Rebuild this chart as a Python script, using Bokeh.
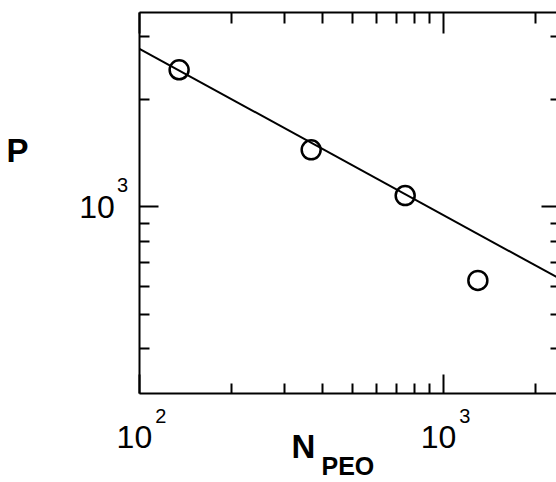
import math
from bokeh.plotting import figure
from bokeh.models import LogAxis, FixedTicker, Label, CustomJSTickFormatter, Range1d
from bokeh.embed import file_html
from bokeh.resources import INLINE

# data
n_peo = [135, 367, 748, 1297]
p_val = [2419, 1444, 1075, 622]
fit_n = [100, 2353]
fit_p = [2770, 636]

x_major = [100, 1000]
x_minor = [200, 300, 400, 500, 600, 700, 800, 900, 2000]
y_major = [1000]
y_minor = [400, 500, 600, 700, 800, 900, 2000, 3000]
x_tick_base = ["10", "10"]
x_tick_exp = ["2", "3"]
y_tick_base = ["10"]
y_tick_exp = ["3"]

# axes box (data limits)
X0, X1 = 100, 2353
Y0, Y1 = 300, 3500

FONT = "Liberation Sans"
W, H = 556, 482
BOX_L, BOX_T, BOX_B = 139, 12, 393   # pixel edges of the axes box

# extend ranges so that the frame spans the whole canvas (labels are not clipped)
xdec = (W - BOX_L) / math.log10(X1 / X0)
ydec = (BOX_B - BOX_T) / math.log10(Y1 / Y0)
xr = Range1d(X0 / 10 ** (BOX_L / xdec), X1)
yr = Range1d(Y0 / 10 ** ((H - BOX_B) / ydec), Y1 * 10 ** (BOX_T / ydec))

p = figure(width=W, height=H, x_axis_type="log", y_axis_type="log",
           x_range=xr, y_range=yr,
           output_backend="svg", toolbar_location=None, min_border=0)
p.grid.visible = False
p.outline_line_color = None

xt = FixedTicker(ticks=x_major, minor_ticks=x_minor)
yt = FixedTicker(ticks=y_major, minor_ticks=y_minor)
empty = CustomJSTickFormatter(code="return ''")


def style(ax, ticker, loc, bounds, line=True):
    ax.ticker = ticker
    ax.fixed_location = loc
    ax.bounds = bounds
    ax.formatter = empty
    ax.major_label_text_font_size = "0px"
    ax.major_label_standoff = 0
    ax.axis_line_width = 2
    ax.axis_line_color = "black" if line else None
    ax.major_tick_in = 19
    ax.major_tick_out = 0
    ax.minor_tick_in = 10
    ax.minor_tick_out = 0
    ax.major_tick_line_width = 2
    ax.minor_tick_line_width = 2
    ax.major_tick_line_color = "black"
    ax.minor_tick_line_color = "black"


style(p.xaxis[0], xt, Y0, (X0, X1))
style(p.yaxis[0], yt, X0, (Y0, Y1))
top = LogAxis()
style(top, xt, Y1, (X0, X1))
top.major_tick_in = 21
top.minor_tick_in = 11
p.add_layout(top, "above")
right = LogAxis()
style(right, yt, X1, (Y0, Y1), line=False)
right.major_tick_in = 15
right.minor_tick_in = 6
p.add_layout(right, "right")

p.line(fit_n, fit_p, line_color="black", line_width=2)
p.scatter(n_peo, p_val, marker="circle", size=19, fill_color=None,
          line_color="black", line_width=2.5)

# tick labels
for xv, b, e in zip(x_major, x_tick_base, x_tick_exp):
    p.add_layout(Label(x=xv, y=Y0, text=b, text_align="right",
                       text_baseline="alphabetic", x_offset=12.7, y_offset=-43.9,
                       text_font=FONT, text_font_size="32px", text_color="black"))
    p.add_layout(Label(x=xv, y=Y0, text=e, text_align="left",
                       text_baseline="alphabetic", x_offset=15.8, y_offset=-22,
                       text_font=FONT, text_font_size="20px", text_color="black"))
for yv, b, e in zip(y_major, y_tick_base, y_tick_exp):
    p.add_layout(Label(x=X0, y=yv, text=b, text_align="right",
                       text_baseline="alphabetic", x_offset=-24.6, y_offset=-0.6,
                       text_font=FONT, text_font_size="32px", text_color="black"))
    p.add_layout(Label(x=X0, y=yv, text=e, text_align="left",
                       text_baseline="alphabetic", x_offset=-22.6, y_offset=22,
                       text_font=FONT, text_font_size="20px", text_color="black"))

# axis titles
p.add_layout(Label(x=X0, y=1000, text="P", text_align="left",
                   text_baseline="alphabetic", x_offset=-133, y_offset=56.7,
                   text_font=FONT, text_font_style="bold", text_font_size="33px",
                   text_color="black"))
p.add_layout(Label(x=X0, y=Y0, text="N", text_align="left",
                   text_baseline="alphabetic", x_offset=152, y_offset=-53,
                   text_font=FONT, text_font_style="bold", text_font_size="33px",
                   text_color="black"))
p.add_layout(Label(x=X0, y=Y0, text="PEO", text_align="left",
                   text_baseline="alphabetic", x_offset=182, y_offset=-72,
                   text_font=FONT, text_font_style="bold", text_font_size="25px",
                   text_color="black"))

open("out.html", "w").write(file_html(p, INLINE))
